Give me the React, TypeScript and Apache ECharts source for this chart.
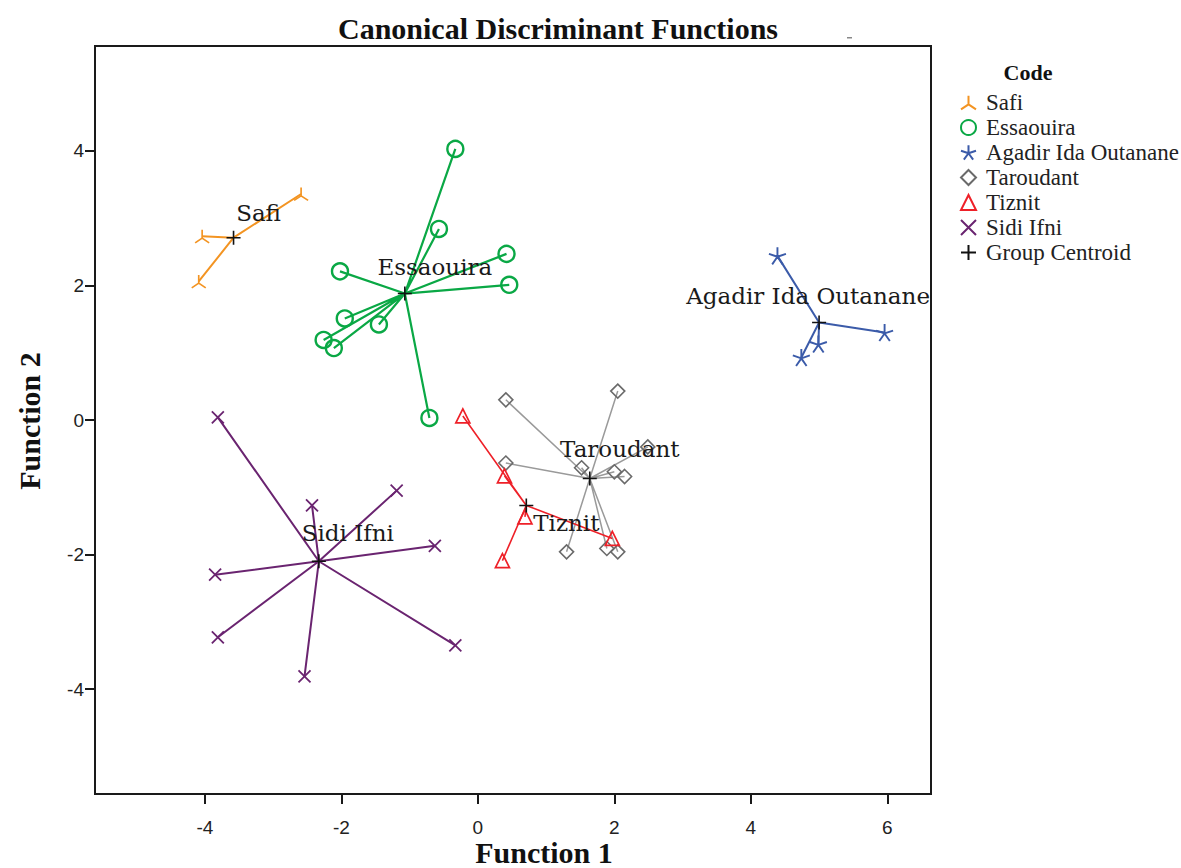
import React, { useEffect, useRef } from 'react';
import * as echarts from 'echarts';

// ---------- data ----------
const groupNames = ['Safi', 'Essaouira', 'Agadir Ida Outanane', 'Taroudant', 'Tiznit', 'Sidi Ifni'];

const safiX = [-4.04, -4.09, -2.59];
const safiY = [2.73, 2.06, 3.36];

const essaouiraX = [-0.33, -0.57, -2.02, 0.42, 0.46, -1.95, -1.45, -2.26, -2.11, -0.71];
const essaouiraY = [4.03, 2.84, 2.21, 2.47, 2.01, 1.51, 1.42, 1.19, 1.07, 0.03];

const agadirX = [4.39, 5.96, 4.74, 4.99];
const agadirY = [2.44, 1.30, 0.93, 1.13];

const taroudantX = [0.41, 2.05, 0.41, 1.52, 2.0, 2.15, 2.49, 1.3, 1.89, 2.05];
const taroudantY = [0.30, 0.43, -0.64, -0.71, -0.77, -0.84, -0.40, -1.96, -1.91, -1.96];

const tiznitX = [-0.22, 0.39, 0.69, 0.36, 1.97];
const tiznitY = [0.06, -0.83, -1.44, -2.09, -1.76];

const sidiIfniX = [-3.81, -2.43, -1.19, -0.63, -3.85, -3.81, -2.54, -0.33];
const sidiIfniY = [0.04, -1.27, -1.05, -1.87, -2.30, -3.23, -3.81, -3.35];

const centroidX = [-3.58, -1.07, 5.0, 1.64, 0.71, -2.33];
const centroidY = [2.71, 1.88, 1.45, -0.87, -1.27, -2.10];

const xTicks = [-4, -2, 0, 2, 4, 6];
const yTicks = [-4, -2, 0, 2, 4];

// ---------- styles ----------
const SYM_TRI = 'path://M0,-6 L0,1 L-6,5 M0,1 L6,5';
const SYM_STAR = 'path://M0,0 L0,-6 M0,0 L5.71,-1.85 M0,0 L3.53,4.85 M0,0 L-3.53,4.85 M0,0 L-5.71,-1.85';
const SYM_X = 'path://M-5,-5 L5,5 M-5,5 L5,-5';
const SYM_PLUS = 'path://M-6,0 L6,0 M0,-6 L0,6';

const groupStyles = [
  { xs: safiX, ys: safiY, color: '#f39422', lineColor: '#f39422', symbol: SYM_TRI, size: [14, 13], lineW: 2, bw: 1.6 },
  { xs: essaouiraX, ys: essaouiraY, color: '#0aa845', lineColor: '#0aa845', symbol: 'circle', size: 16, lineW: 2.2, bw: 2.4 },
  { xs: agadirX, ys: agadirY, color: '#3b5ba9', lineColor: '#3b5ba9', symbol: SYM_STAR, size: 17, lineW: 2, bw: 1.9 },
  { xs: taroudantX, ys: taroudantY, color: '#6a6a6a', lineColor: '#9a9a9a', symbol: 'diamond', size: 14, lineW: 1.5, bw: 1.6 },
  { xs: tiznitX, ys: tiznitY, color: '#ee2028', lineColor: '#ee2028', symbol: 'triangle', size: 14, lineW: 1.6, bw: 1.7 },
  { xs: sidiIfniX, ys: sidiIfniY, color: '#6a2470', lineColor: '#6a2470', symbol: SYM_X, size: 12, lineW: 2, bw: 1.8 },
];

const labelOffsets = [[25, -25], [30, -27], [-11, -26], [30, -30], [40, 18], [29, -28]];

const SERIF = '"Liberation Serif", "Times New Roman", serif';

function buildOption() {
  const series: any[] = [];
  groupStyles.forEach((g, i) => {
    const c = [centroidX[i], centroidY[i]];
    const zig: number[][] = [];
    g.xs.forEach((x, k) => {
      zig.push(c);
      zig.push([x, g.ys[k]]);
    });
    series.push({
      type: 'line',
      name: groupNames[i] + ' lines',
      data: zig,
      symbol: 'none',
      lineStyle: { color: g.lineColor, width: g.lineW },
      z: 1,
      silent: true,
    });
  });
  groupStyles.forEach((g, i) => {
    series.push({
      type: 'scatter',
      name: groupNames[i],
      data: g.xs.map((x, k) => [x, g.ys[k]]),
      symbol: g.symbol,
      symbolSize: g.size,
      itemStyle: { color: 'rgba(0,0,0,0)', borderColor: g.color, borderWidth: g.bw, opacity: 1 },
      z: 3,
    });
  });
  series.push({
    type: 'scatter',
    name: 'Group Centroid',
    data: centroidX.map((x, i) => ({
      value: [x, centroidY[i]],
      name: groupNames[i],
      label: { offset: labelOffsets[i] },
    })),
    symbol: SYM_PLUS,
    symbolSize: 14,
    itemStyle: { color: 'rgba(0,0,0,0)', borderColor: '#111', borderWidth: 1.6, opacity: 1 },
    label: {
      show: true,
      position: 'inside',
      formatter: (p: any) => p.name,
      fontFamily: '"DejaVu Serif", serif',
      fontSize: 23,
      color: '#1a1a1a',
    },
    z: 4,
  });

  return {
    animation: false,
    backgroundColor: '#ffffff',
    grid: { left: 95, right: 250, top: 46, bottom: 74, show: true, borderColor: '#1a1a1a', borderWidth: 2, backgroundColor: 'transparent' },
    xAxis: {
      type: 'value',
      min: -5.61,
      max: 6.64,
      splitLine: { show: false },
      axisLine: { show: true, onZero: false, lineStyle: { color: '#1a1a1a', width: 2 } },
      axisTick: { show: true, inside: false, length: 10, customValues: xTicks, lineStyle: { color: '#1a1a1a', width: 2 } },
      axisLabel: { customValues: xTicks, margin: 24, fontFamily: '"Liberation Sans", Arial, sans-serif', fontSize: 19, color: '#222' },
    },
    yAxis: {
      type: 'value',
      min: -5.56,
      max: 5.56,
      splitLine: { show: false },
      axisLine: { show: true, onZero: false, lineStyle: { color: '#1a1a1a', width: 2 } },
      axisTick: { show: true, inside: false, length: 10, customValues: yTicks, lineStyle: { color: '#1a1a1a', width: 2 } },
      axisLabel: { customValues: yTicks, margin: 11, fontFamily: '"Liberation Sans", Arial, sans-serif', fontSize: 19, color: '#222' },
    },
    legend: {
      orient: 'vertical',
      left: 955,
      top: 86,
      data: [...groupNames, 'Group Centroid'],
      itemWidth: 15,
      itemHeight: 15,
      itemGap: 2,
      selectedMode: false,
      textStyle: { fontFamily: SERIF, fontSize: 23, color: '#222', lineHeight: 23, padding: [0, 0, 0, 5] },
    },
    graphic: [
      {
        type: 'text',
        x: 558,
        y: 28,
        style: { text: 'Canonical Discriminant Functions', font: 'bold 30px "Liberation Serif", serif', fill: '#111', textAlign: 'center', textVerticalAlign: 'middle' },
      },
      {
        type: 'text',
        x: 544,
        y: 852,
        style: { text: 'Function 1', font: 'bold 30px "Liberation Serif", serif', fill: '#111', textAlign: 'center', textVerticalAlign: 'middle' },
      },
      {
        type: 'text',
        x: 29,
        y: 421,
        rotation: Math.PI / 2,
        style: { text: 'Function 2', font: 'bold 30px "Liberation Serif", serif', fill: '#111', textAlign: 'center', textVerticalAlign: 'middle' },
      },
      {
        type: 'text',
        x: 1028,
        y: 72,
        style: { text: 'Code', font: 'bold 22px "Liberation Serif", serif', fill: '#111', textAlign: 'center', textVerticalAlign: 'middle' },
      },
      { type: 'rect', shape: { x: 847, y: 37, width: 5, height: 1.5 }, style: { fill: '#888' } },
    ],
    series,
  };
}

export default function App() {
  const ref = useRef<HTMLDivElement>(null);
  useEffect(() => {
    const chart = echarts.init(ref.current!, null, { renderer: 'svg' });
    chart.setOption(buildOption() as any);
    return () => chart.dispose();
  }, []);
  return <div ref={ref} style={{ position: 'fixed', left: 0, top: 0, width: 1181, height: 868, background: '#fff' }} />;
}
